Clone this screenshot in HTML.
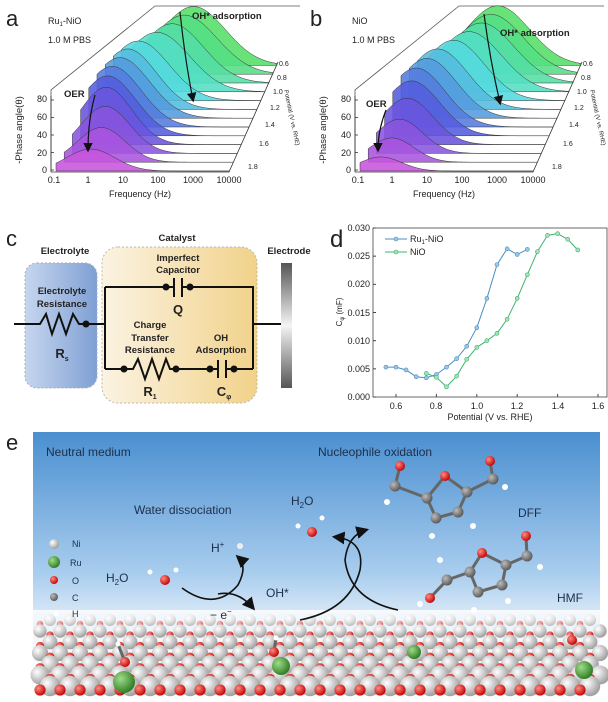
<!DOCTYPE html>
<html><head><meta charset="utf-8">
<style>
html,body{margin:0;padding:0;background:#fff;}
svg{display:block;font-family:"Liberation Sans",Arial,sans-serif;}
</style></head>
<body>
<svg id="s" width="608" height="702" viewBox="0 0 608 702" xmlns="http://www.w3.org/2000/svg">
<defs>
<linearGradient id="sky" x1="0" y1="0" x2="0" y2="1">
<stop offset="0" stop-color="#4a8fd0"/><stop offset="0.55" stop-color="#a9cdee"/><stop offset="0.8" stop-color="#f4f8fc"/><stop offset="1" stop-color="#ffffff"/></linearGradient>
<linearGradient id="blueBox" x1="0" y1="0" x2="1" y2="0"><stop offset="0" stop-color="#c6d6ee"/><stop offset="1" stop-color="#7fa0d4"/></linearGradient>
<linearGradient id="catBox" x1="0" y1="0" x2="1" y2="0"><stop offset="0" stop-color="#fbf3e2"/><stop offset="1" stop-color="#f1d28a"/></linearGradient>
<linearGradient id="elec" x1="0" y1="0" x2="0" y2="1"><stop offset="0" stop-color="#555"/><stop offset="0.5" stop-color="#f4f4f4"/><stop offset="1" stop-color="#555"/></linearGradient>
<linearGradient id="fade" x1="0" y1="0" x2="0" y2="1"><stop offset="0" stop-color="#fff" stop-opacity="0.85"/><stop offset="1" stop-color="#fff" stop-opacity="0"/></linearGradient>
<radialGradient id="gball" cx="0.35" cy="0.35" r="0.7"><stop offset="0" stop-color="#fff"/><stop offset="1" stop-color="#9a9a9a"/></radialGradient>
<radialGradient id="rball" cx="0.35" cy="0.35" r="0.7"><stop offset="0" stop-color="#ff8a80"/><stop offset="1" stop-color="#c00000"/></radialGradient>
<radialGradient id="grball" cx="0.35" cy="0.35" r="0.7"><stop offset="0" stop-color="#9fdc8a"/><stop offset="1" stop-color="#2c7a20"/></radialGradient>
<radialGradient id="cball" cx="0.35" cy="0.35" r="0.7"><stop offset="0" stop-color="#bbb"/><stop offset="1" stop-color="#555"/></radialGradient>
<marker id="ah" markerWidth="8" markerHeight="8" refX="6" refY="4" orient="auto"><path d="M0,0 L8,4 L0,8 z" fill="#111"/></marker>
</defs>
<g id="pa"></g>
<g id="pb"></g>
<g font-size="9" fill="#222">
<text x="6" y="26" font-size="22">a</text>
<text x="48" y="24">Ru<tspan font-size="6" dy="2">1</tspan><tspan dy="-2">-NiO</tspan></text>
<text x="48" y="43">1.0 M PBS</text>
<text x="192" y="19" font-weight="bold" font-size="9.5">OH* adsorption</text>
<text x="64" y="97" font-weight="bold" font-size="9.5">OER</text>
<g text-anchor="end"><text x="47" y="102">80</text><text x="47" y="120">60</text><text x="47" y="138">40</text><text x="47" y="156">20</text><text x="47" y="173">0</text></g>
<g text-anchor="middle"><text x="54" y="183">0.1</text><text x="88" y="183">1</text><text x="123" y="183">10</text><text x="158" y="183">100</text><text x="193" y="183">1000</text><text x="229" y="183">10000</text>
<text x="140" y="197">Frequency (Hz)</text></g>
<text transform="translate(22,130) rotate(-90)" text-anchor="middle" font-size="9.5">-Phase angle(θ)</text>
<g font-size="7"><text x="279" y="66">0.6</text><text x="277" y="80">0.8</text><text x="273" y="94">1.0</text><text x="270" y="110">1.2</text><text x="265" y="127">1.4</text><text x="259" y="146">1.6</text><text x="248" y="169">1.8</text></g>
<text transform="translate(290,118) rotate(78)" text-anchor="middle" font-size="6">Potential (V vs. RHE)</text>
</g>
<g font-size="9" fill="#222">
<text x="310" y="26" font-size="22">b</text>
<text x="352" y="24">NiO</text>
<text x="352" y="43">1.0 M PBS</text>
<text x="500" y="36" font-weight="bold" font-size="9.5">OH* adsorption</text>
<text x="366" y="107" font-weight="bold" font-size="9.5">OER</text>
<g text-anchor="end"><text x="351" y="102">80</text><text x="351" y="120">60</text><text x="351" y="138">40</text><text x="351" y="156">20</text><text x="351" y="173">0</text></g>
<g text-anchor="middle"><text x="358" y="183">0.1</text><text x="392" y="183">1</text><text x="427" y="183">10</text><text x="462" y="183">100</text><text x="497" y="183">1000</text><text x="533" y="183">10000</text>
<text x="444" y="197">Frequency (Hz)</text></g>
<text transform="translate(326,130) rotate(-90)" text-anchor="middle" font-size="9.5">-Phase angle(θ)</text>
<g font-size="7"><text x="583" y="66">0.6</text><text x="581" y="80">0.8</text><text x="577" y="94">1.0</text><text x="574" y="110">1.2</text><text x="569" y="127">1.4</text><text x="563" y="146">1.6</text><text x="552" y="169">1.8</text></g>
<text transform="translate(596,118) rotate(78)" text-anchor="middle" font-size="6">Potential (V vs. RHE)</text>
</g>

<!-- panel c -->
<g>
<text x="6" y="246" font-size="22" fill="#222">c</text>
<rect x="25" y="263" width="72" height="125" rx="12" fill="url(#blueBox)" stroke="#aab" stroke-dasharray="2,2"/>
<rect x="102" y="247" width="155" height="156" rx="16" fill="url(#catBox)" stroke="#bba" stroke-dasharray="2,2"/>
<rect x="281" y="263" width="11" height="125" fill="url(#elec)"/>
<g font-size="9.5" font-weight="bold" fill="#222" text-anchor="middle">
<text x="65" y="254">Electrolyte</text>
<text x="177" y="241">Catalyst</text>
<text x="289" y="254">Electrode</text>
<text x="62" y="294">Electrolyte</text><text x="62" y="307">Resistance</text>
<text x="62" y="358" font-size="13">R<tspan font-size="7" dy="3">s</tspan></text>
<text x="178" y="261">Imperfect</text><text x="178" y="273">Capacitor</text>
<text x="178" y="314" font-size="13">Q</text>
<text x="150" y="328">Charge</text><text x="150" y="341">Transfer</text><text x="150" y="353">Resistance</text>
<text x="221" y="341">OH</text><text x="221" y="353">Adsorption</text>
<text x="150" y="396" font-size="13">R<tspan font-size="7" dy="3">1</tspan></text>
<text x="224" y="396" font-size="13">C<tspan font-size="7" dy="3">φ</tspan></text>
</g>
<g stroke="#111" stroke-width="2" fill="none">
<path d="M14,324 H40 L46,314 L52,334 L59,314 L66,334 L73,314 L79,324 H105"/>
<path d="M105,287 V369 M105,287 H174 M182,287 H253 V369 M253,324 H281"/>
<path d="M174,278 V297 M182,278 V297"/>
<path d="M105,369 H133 L138,359 L145,379 L152,359 L159,379 L166,359 L170,369 H218 M226,369 H253"/>
<path d="M218,360 V378 M226,360 V378"/>
</g>
<g fill="#111"><circle cx="86" cy="324" r="3.5"/><circle cx="166" cy="287" r="3.5"/><circle cx="190" cy="287" r="3.5"/><circle cx="124" cy="369" r="3.5"/><circle cx="176" cy="369" r="3.5"/><circle cx="210" cy="369" r="3.5"/><circle cx="234" cy="369" r="3.5"/></g>
</g>

<!-- panel d -->
<g id="pd" font-size="9" fill="#222">
<text x="330" y="247" font-size="24">d</text>
<rect x="373" y="228" width="234" height="169" fill="none" stroke="#444" stroke-width="0.8"/>
<g text-anchor="end"><text x="370" y="231">0.030</text><text x="370" y="259">0.025</text><text x="370" y="287">0.020</text><text x="370" y="316">0.015</text><text x="370" y="344">0.010</text><text x="370" y="372">0.005</text><text x="370" y="400">0.000</text></g>
<g text-anchor="middle"><text x="396" y="409">0.6</text><text x="436" y="409">0.8</text><text x="477" y="409">1.0</text><text x="517" y="409">1.2</text><text x="558" y="409">1.4</text><text x="598" y="409">1.6</text>
<text x="490" y="420">Potential (V vs. RHE)</text></g>
<text transform="translate(342,312) rotate(-90)" text-anchor="middle" font-size="8">C<tspan font-size="6" dy="2">φ</tspan><tspan dy="-2"> (mF)</tspan></text>
<line x1="385" y1="239" x2="407" y2="239" stroke="#4a8fbf" stroke-width="1"/><circle cx="396" cy="239" r="2" fill="#9cc6e6" stroke="#4a8fbf" stroke-width="0.6"/>
<line x1="385" y1="252" x2="407" y2="252" stroke="#3cb371" stroke-width="1"/><circle cx="396" cy="252" r="2" fill="#a8e0b8" stroke="#3cb371" stroke-width="0.6"/>
<text x="410" y="242">Ru<tspan font-size="6" dy="2">1</tspan><tspan dy="-2">-NiO</tspan></text>
<text x="410" y="255">NiO</text>
</g>

<!-- panel e -->
<g>
<text x="6" y="450" font-size="22" fill="#222">e</text>
<rect x="33" y="432" width="567" height="258" fill="url(#sky)"/>
<g id="slab"></g>
<g font-size="12" fill="#1e2e4a">
<text x="46" y="456">Neutral medium</text>
<text x="318" y="456">Nucleophile oxidation</text>
<text x="134" y="514">Water dissociation</text>
<text x="291" y="505">H<tspan font-size="8" dy="3">2</tspan><tspan dy="-3">O</tspan></text>
<text x="106" y="582">H<tspan font-size="8" dy="3">2</tspan><tspan dy="-3">O</tspan></text>
<text x="211" y="552">H<tspan font-size="8" dy="-5">+</tspan></text>
<text x="266" y="597">OH*</text>
<text x="210" y="619">− e<tspan font-size="8" dy="-5">−</tspan></text>
<text x="518" y="517">DFF</text>
<text x="557" y="602">HMF</text>
</g>
<g font-size="9" fill="#1e2e4a">
<circle cx="54" cy="544" r="5" fill="url(#gball)"/><text x="72" y="547">Ni</text>
<circle cx="54" cy="562" r="6" fill="url(#grball)"/><text x="70" y="566">Ru</text>
<circle cx="54" cy="580" r="4" fill="url(#rball)"/><text x="72" y="584">O</text>
<circle cx="54" cy="597" r="4" fill="url(#cball)"/><text x="72" y="601">C</text>
<circle cx="56" cy="614" r="2.5" fill="#fff"/><text x="72" y="617">H</text>
</g>
<g stroke="#111" stroke-width="1.6" fill="none">
<path d="M182,588 Q215,612 238,585 Q248,566 238,557" marker-end="url(#ah)"/>
<path d="M218,594 Q238,590 253,608" marker-end="url(#ah)"/>
<path d="M300,620 Q350,610 360,570 Q365,540 335,537" marker-end="url(#ah)"/>
<path d="M398,610 Q350,600 345,560 Q348,535 366,530" marker-end="url(#ah)"/>
</g>
<g id="mols"></g>
</g>
</svg>
<script>
var NS="http://www.w3.org/2000/svg";
function el(p,t,a){var e=document.createElementNS(NS,t);for(var k in a)e.setAttribute(k,a[k]);p.appendChild(e);return e;}
var params=[[25,0,0.7],[40,0.1,0.7],[55,0,0.75],[68,-0.2,0.8],[72,-0.4,0.9],[74,-0.5,0.95],[75,-0.5,1],[76,-0.5,1],[76,-0.4,1.1],[77,0,1.2],[78,0.3,1.2],[79,0.5,1.3],[80,0.6,1.3]];
var paramsB=[[16,-0.4,0.6],[28,-0.3,0.65],[40,-0.3,0.7],[55,-0.3,0.8],[66,-0.4,0.9],[72,-0.5,0.95],[74,-0.4,1],[76,-0.3,1.05],[77,0,1.1],[78,0.3,1.2],[79,0.5,1.25],[80,0.6,1.3],[81,0.6,1.3]];
function water(g,ox,P){
  el(g,"path",{d:"M"+(ox+51)+",172 V90 L"+(ox+155)+",6 H"+(ox+300),stroke:"#555","stroke-width":"0.8",fill:"none"});
  for(var i=12;i>=0;i--){
    var A=P[i][0],c=P[i][1],s=P[i][2];
    var xs=ox+56+i*8.2,w=173-i*4.2,yb=171-i*8.8,hs=0.88-i*0.012;
    var d="M"+xs+","+yb;
    for(var k=0;k<=60;k++){var lf=-1+5*k/60;var a=A*Math.exp(-Math.pow(lf-c,2)/(2*s*s));
      d+=" L"+(xs+w*k/60).toFixed(1)+","+(yb-a*hs).toFixed(1);}
    d+=" L"+(xs+w)+","+yb+" Z";
    var h=290-i*13.5;
    el(g,"path",{d:d,fill:"hsl("+h+",68%,60%)","fill-opacity":"0.88",stroke:"#333","stroke-width":"0.5"});
  }
  el(g,"path",{d:"M"+(ox+51)+",172 H"+(ox+229)+" L"+(ox+278)+",62",stroke:"#333","stroke-width":"0.8",fill:"none"});
  el(g,"path",{d:"M"+(ox+51)+",96 V172",stroke:"#333","stroke-width":"0.8",fill:"none"});
  for(var t=0;t<5;t++)el(g,"line",{x1:ox+51,x2:ox+54,y1:170-t*17.5,y2:170-t*17.5,stroke:"#333","stroke-width":"0.8"});
}
var ga=document.getElementById("pa"),gb=document.getElementById("pb");
water(ga,0,params);water(gb,304,paramsB);
el(ga,"path",{d:"M180,12 Q185,60 193,100",stroke:"#111","stroke-width":"1.2",fill:"none","marker-end":"url(#ah)"});
el(ga,"path",{d:"M95,95 Q88,120 88,150",stroke:"#111","stroke-width":"1.2",fill:"none","marker-end":"url(#ah)"});
el(gb,"path",{d:"M484,14 Q490,60 500,103",stroke:"#111","stroke-width":"1.2",fill:"none","marker-end":"url(#ah)"});
el(gb,"path",{d:"M386,110 Q378,130 378,150",stroke:"#111","stroke-width":"1.2",fill:"none","marker-end":"url(#ah)"});
var pd=document.getElementById("pd");
function X(v){return 396+(v-0.6)*202;}function Y(v){return 397-v*5633;}
var ru=[[0.55,.0053],[0.6,.0053],[0.65,.0048],[0.7,.0036],[0.75,.0034],[0.8,.004],[0.85,.0053],[0.9,.0068],[0.95,.009],[1.0,.0123],[1.05,.0175],[1.1,.0235],[1.15,.0263],[1.2,.0253],[1.25,.0262]];
var ni=[[0.75,.0042],[0.8,.0035],[0.85,.0018],[0.9,.0037],[0.95,.0067],[1.0,.0088],[1.05,.01],[1.1,.0113],[1.15,.0138],[1.2,.0175],[1.25,.0217],[1.3,.0258],[1.35,.0287],[1.4,.029],[1.45,.028],[1.5,.0261]];
function series(d,c,f){el(pd,"polyline",{points:d.map(function(p){return X(p[0])+","+Y(p[1]);}).join(" "),fill:"none",stroke:c,"stroke-width":"1"});
d.forEach(function(p){el(pd,"circle",{cx:X(p[0]),cy:Y(p[1]),r:2,fill:f,stroke:c,"stroke-width":"0.6"});});}
series(ru,"#4a8fbf","#9cc6e6");series(ni,"#3cb371","#a8e0b8");
[0.6,0.8,1.0,1.2,1.4,1.6].forEach(function(v){el(pd,"line",{x1:X(v),x2:X(v),y1:397,y2:394,stroke:"#444"});});
[0,1,2,3,4,5,6].forEach(function(k){var y=397-k*28.17;el(pd,"line",{x1:373,x2:376,y1:y,y2:y,stroke:"#444"});});
var sl=document.getElementById("slab");
for(var r=0;r<7;r++){
  var y=620+r*11,rad=6+r*0.7,off=(r%2)*10;
  for(var x=30+off;x<610;x+=20){
    if(x<33||x>600)continue;
    el(sl,"circle",{cx:x,cy:y,r:rad,fill:"url(#gball)"});
  }
  for(var x=40+off;x<600;x+=20){el(sl,"circle",{cx:x,cy:y+4,r:rad*0.55,fill:"url(#rball)"});}
}
el(sl,"rect",{x:33,y:610,width:567,height:25,fill:"url(#fade)"});
[[124,682,11],[281,666,9],[584,670,9],[414,652,7]].forEach(function(p){el(sl,"circle",{cx:p[0],cy:p[1],r:p[2],fill:"url(#grball)"});});
var mo=document.getElementById("mols");
function at(x,y,r,f){el(mo,"circle",{cx:x,cy:y,r:r,fill:f});}
function bond(a,b,c,d){el(mo,"line",{x1:a,y1:b,x2:c,y2:d,stroke:"#666","stroke-width":"3"});}
bond(125,662,118,644);at(125,662,5,"url(#rball)");at(118,644,2.5,"#fff");
bond(274,652,276,638);at(274,652,5,"url(#rball)");at(276,638,2.5,"#fff");
at(572,640,5,"url(#rball)");
at(165,580,5,"url(#rball)");at(176,570,2.5,"#fff");at(150,572,2.5,"#fff");
at(312,532,5,"url(#rball)");at(322,518,2.5,"#fff");at(298,526,2.5,"#fff");
at(240,546,3,"#eee");
var dff=[[395,486,"c"],[427,498,"c"],[445,476,"o"],[467,492,"c"],[458,512,"c"],[436,518,"c"],[493,479,"c"],[490,461,"o"],[505,487,"h"],[400,466,"o"],[387,502,"h"],[473,526,"h"],[432,536,"h"]];
bond(395,486,427,498);bond(427,498,445,476);bond(445,476,467,492);bond(467,492,458,512);bond(458,512,436,518);bond(436,518,427,498);bond(467,492,493,479);bond(493,479,490,461);bond(395,486,400,466);
dff.forEach(function(p){at(p[0],p[1],p[2]=="h"?3:p[2]=="o"?5:5.5,p[2]=="h"?"#fff":p[2]=="o"?"url(#rball)":"url(#cball)");});
var hmf=[[447,580,"c"],[470,572,"c"],[482,553,"o"],[506,565,"c"],[502,585,"c"],[478,592,"c"],[527,556,"c"],[526,536,"o"],[540,567,"h"],[430,598,"o"],[420,604,"h"],[440,560,"h"],[508,601,"h"],[474,610,"h"]];
bond(447,580,470,572);bond(470,572,482,553);bond(482,553,506,565);bond(506,565,502,585);bond(502,585,478,592);bond(478,592,470,572);bond(506,565,527,556);bond(527,556,526,536);bond(447,580,430,598);
hmf.forEach(function(p){at(p[0],p[1],p[2]=="h"?3:p[2]=="o"?5:5.5,p[2]=="h"?"#fff":p[2]=="o"?"url(#rball)":"url(#cball)");});
</script>
</body></html>
